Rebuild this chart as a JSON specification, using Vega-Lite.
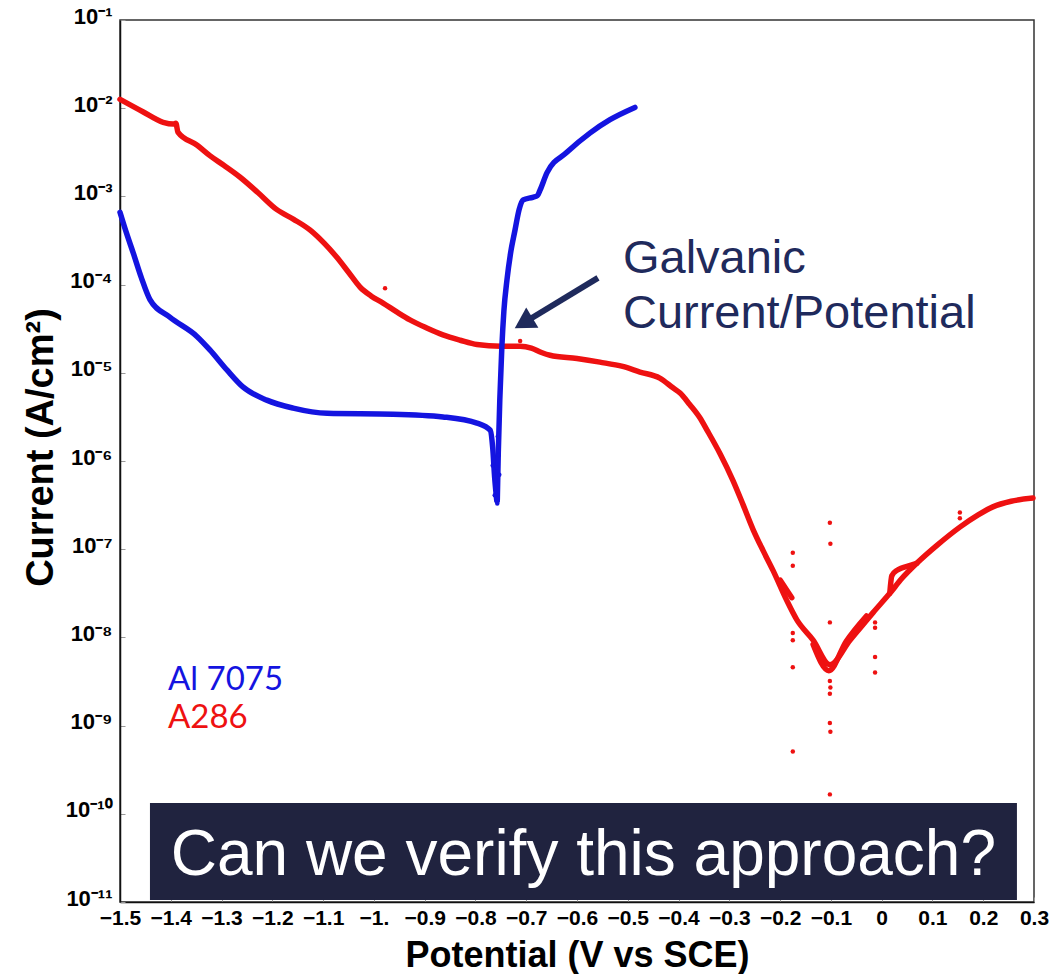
{
  "$schema": "https://vega.github.io/schema/vega-lite/v6.json",
  "width": 914,
  "height": 882,
  "autosize": "none",
  "padding": {"left": 120, "top": 20, "right": 15, "bottom": 72},
  "background": "white",
  "config": {
    "view": {"stroke": "#333333", "strokeWidth": 1.5},
    "axis": {
      "domainColor": "#111111",
      "domainWidth": 1.5,
      "tickColor": "#999999",
      "tickSize": -5,
      "tickWidth": 1,
      "grid": false,
      "labelFont": "Liberation Sans",
      "labelFontWeight": "bold",
      "labelColor": "#000000",
      "titleFont": "Liberation Sans",
      "titleFontWeight": "bold",
      "titleColor": "#000000"
    }
  },
  "datasets": {
    "curves": [
      {"alloy": "A286", "seg": "r1", "V": -1.5, "I": 0.0126},
      {"alloy": "A286", "seg": "r1", "V": -1.455, "I": 0.00912},
      {"alloy": "A286", "seg": "r1", "V": -1.415, "I": 0.00692},
      {"alloy": "A286", "seg": "r1", "V": -1.395, "I": 0.00661},
      {"alloy": "A286", "seg": "r1", "V": -1.39, "I": 0.00676},
      {"alloy": "A286", "seg": "r1", "V": -1.386, "I": 0.00537},
      {"alloy": "A286", "seg": "r1", "V": -1.348, "I": 0.00380},
      {"alloy": "A286", "seg": "r1", "V": -1.323, "I": 0.00290},
      {"alloy": "A286", "seg": "r1", "V": -1.295, "I": 0.00224},
      {"alloy": "A286", "seg": "r1", "V": -1.264, "I": 0.00166},
      {"alloy": "A286", "seg": "r1", "V": -1.228, "I": 0.00110},
      {"alloy": "A286", "seg": "r1", "V": -1.191, "I": 0.000708},
      {"alloy": "A286", "seg": "r1", "V": -1.158, "I": 0.000550},
      {"alloy": "A286", "seg": "r1", "V": -1.126, "I": 0.000417},
      {"alloy": "A286", "seg": "r1", "V": -1.098, "I": 0.000295},
      {"alloy": "A286", "seg": "r1", "V": -1.073, "I": 0.000204},
      {"alloy": "A286", "seg": "r1", "V": -1.050, "I": 0.000138},
      {"alloy": "A286", "seg": "r1", "V": -1.027, "I": 0.0000933},
      {"alloy": "A286", "seg": "r1", "V": -1.005, "I": 0.0000740},
      {"alloy": "A286", "seg": "r1", "V": -0.982, "I": 0.0000617},
      {"alloy": "A286", "seg": "r1", "V": -0.955, "I": 0.0000490},
      {"alloy": "A286", "seg": "r1", "V": -0.929, "I": 0.0000398},
      {"alloy": "A286", "seg": "r1", "V": -0.897, "I": 0.0000324},
      {"alloy": "A286", "seg": "r1", "V": -0.864, "I": 0.0000269},
      {"alloy": "A286", "seg": "r1", "V": -0.830, "I": 0.0000234},
      {"alloy": "A286", "seg": "r1", "V": -0.797, "I": 0.0000209},
      {"alloy": "A286", "seg": "r1", "V": -0.75, "I": 0.00002},
      {"alloy": "A286", "seg": "r1", "V": -0.712, "I": 0.00002},
      {"alloy": "A286", "seg": "r1", "V": -0.69, "I": 0.0000191},
      {"alloy": "A286", "seg": "r1", "V": -0.670, "I": 0.0000170},
      {"alloy": "A286", "seg": "r1", "V": -0.653, "I": 0.0000158},
      {"alloy": "A286", "seg": "r1", "V": -0.600, "I": 0.0000145},
      {"alloy": "A286", "seg": "r1", "V": -0.555, "I": 0.0000132},
      {"alloy": "A286", "seg": "r1", "V": -0.510, "I": 0.0000118},
      {"alloy": "A286", "seg": "r1", "V": -0.476, "I": 0.0000102},
      {"alloy": "A286", "seg": "r1", "V": -0.437, "I": 0.00000871},
      {"alloy": "A286", "seg": "r1", "V": -0.411, "I": 0.00000676},
      {"alloy": "A286", "seg": "r1", "V": -0.397, "I": 0.00000589},
      {"alloy": "A286", "seg": "r1", "V": -0.378, "I": 0.00000437},
      {"alloy": "A286", "seg": "r1", "V": -0.358, "I": 0.00000309},
      {"alloy": "A286", "seg": "r1", "V": -0.344, "I": 0.00000224},
      {"alloy": "A286", "seg": "r1", "V": -0.318, "I": 0.00000120},
      {"alloy": "A286", "seg": "r1", "V": -0.293, "I": 6.03e-7},
      {"alloy": "A286", "seg": "r1", "V": -0.273, "I": 3.2e-7},
      {"alloy": "A286", "seg": "r1", "V": -0.253, "I": 1.66e-7},
      {"alloy": "A286", "seg": "r1", "V": -0.233, "I": 9.5e-8},
      {"alloy": "A286", "seg": "r1", "V": -0.214, "I": 5.75e-8},
      {"alloy": "A286", "seg": "r1", "V": -0.187, "I": 2.63e-8},
      {"alloy": "A286", "seg": "r1", "V": -0.167, "I": 1.58e-8},
      {"alloy": "A286", "seg": "r1", "V": -0.135, "I": 9.33e-9},
      {"alloy": "A286", "seg": "r1", "V": -0.102, "I": 4.9e-9},
      {"alloy": "A286", "seg": "r1", "V": -0.062, "I": 9.33e-9},
      {"alloy": "A286", "seg": "r1", "V": -0.017, "I": 1.91e-8},
      {"alloy": "A286", "seg": "r1", "V": 0.016, "I": 3.16e-8},
      {"alloy": "A286", "seg": "r1", "V": 0.04, "I": 4.68e-8},
      {"alloy": "A286", "seg": "r1", "V": 0.069, "I": 6.92e-8},
      {"alloy": "A286", "seg": "r1", "V": 0.110, "I": 1.12e-7},
      {"alloy": "A286", "seg": "r1", "V": 0.154, "I": 1.78e-7},
      {"alloy": "A286", "seg": "r1", "V": 0.190, "I": 2.45e-7},
      {"alloy": "A286", "seg": "r1", "V": 0.219, "I": 3.02e-7},
      {"alloy": "A286", "seg": "r1", "V": 0.255, "I": 3.5e-7},
      {"alloy": "A286", "seg": "r1", "V": 0.298, "I": 3.8e-7},
      {"alloy": "A286", "seg": "r2", "V": -0.2, "I": 4.47e-8},
      {"alloy": "A286", "seg": "r2", "V": -0.177, "I": 2.82e-8},
      {"alloy": "A286", "seg": "r3", "V": 0.016, "I": 3.16e-8},
      {"alloy": "A286", "seg": "r3", "V": 0.02, "I": 5.0e-8},
      {"alloy": "A286", "seg": "r3", "V": 0.03, "I": 5.75e-8},
      {"alloy": "A286", "seg": "r3", "V": 0.058, "I": 6.6e-8},
      {"alloy": "A286", "seg": "r3", "V": 0.069, "I": 6.92e-8},
      {"alloy": "A286", "seg": "r4", "V": -0.135, "I": 8.3e-9},
      {"alloy": "A286", "seg": "r4", "V": -0.104, "I": 4.2e-9},
      {"alloy": "A286", "seg": "r4", "V": -0.070, "I": 9.0e-9},
      {"alloy": "A286", "seg": "r4", "V": -0.030, "I": 1.75e-8},
      {"alloy": "Al 7075", "seg": "b1", "V": -1.5, "I": 0.000661},
      {"alloy": "Al 7075", "seg": "b1", "V": -1.487, "I": 0.000380},
      {"alloy": "Al 7075", "seg": "b1", "V": -1.474, "I": 0.000229},
      {"alloy": "Al 7075", "seg": "b1", "V": -1.458, "I": 0.000120},
      {"alloy": "Al 7075", "seg": "b1", "V": -1.441, "I": 0.0000676},
      {"alloy": "Al 7075", "seg": "b1", "V": -1.402, "I": 0.0000427},
      {"alloy": "Al 7075", "seg": "b1", "V": -1.348, "I": 0.0000257},
      {"alloy": "Al 7075", "seg": "b1", "V": -1.323, "I": 0.0000182},
      {"alloy": "Al 7075", "seg": "b1", "V": -1.289, "I": 0.0000107},
      {"alloy": "Al 7075", "seg": "b1", "V": -1.258, "I": 0.00000692},
      {"alloy": "Al 7075", "seg": "b1", "V": -1.211, "I": 0.0000049},
      {"alloy": "Al 7075", "seg": "b1", "V": -1.159, "I": 0.00000398},
      {"alloy": "Al 7075", "seg": "b1", "V": -1.092, "I": 0.00000347},
      {"alloy": "Al 7075", "seg": "b1", "V": -0.962, "I": 0.00000339},
      {"alloy": "Al 7075", "seg": "b1", "V": -0.864, "I": 0.00000316},
      {"alloy": "Al 7075", "seg": "b1", "V": -0.797, "I": 0.00000269},
      {"alloy": "Al 7075", "seg": "b1", "V": -0.771, "I": 0.00000224},
      {"alloy": "Al 7075", "seg": "b1", "V": -0.766, "I": 0.00000141},
      {"alloy": "Al 7075", "seg": "b1", "V": -0.762, "I": 6.31e-7},
      {"alloy": "Al 7075", "seg": "b1", "V": -0.758, "I": 3.55e-7},
      {"alloy": "Al 7075", "seg": "b2", "V": -0.757, "I": 3.55e-7},
      {"alloy": "Al 7075", "seg": "b2", "V": -0.755, "I": 0.00000126},
      {"alloy": "Al 7075", "seg": "b2", "V": -0.752, "I": 0.00000501},
      {"alloy": "Al 7075", "seg": "b2", "V": -0.748, "I": 0.0000195},
      {"alloy": "Al 7075", "seg": "b2", "V": -0.744, "I": 0.0000501},
      {"alloy": "Al 7075", "seg": "b2", "V": -0.738, "I": 0.000112},
      {"alloy": "Al 7075", "seg": "b2", "V": -0.731, "I": 0.000224},
      {"alloy": "Al 7075", "seg": "b2", "V": -0.722, "I": 0.000417},
      {"alloy": "Al 7075", "seg": "b2", "V": -0.714, "I": 0.000708},
      {"alloy": "Al 7075", "seg": "b2", "V": -0.706, "I": 0.000912},
      {"alloy": "Al 7075", "seg": "b2", "V": -0.687, "I": 0.000977},
      {"alloy": "Al 7075", "seg": "b2", "V": -0.678, "I": 0.00102},
      {"alloy": "Al 7075", "seg": "b2", "V": -0.673, "I": 0.00117},
      {"alloy": "Al 7075", "seg": "b2", "V": -0.659, "I": 0.00186},
      {"alloy": "Al 7075", "seg": "b2", "V": -0.62, "I": 0.00316},
      {"alloy": "Al 7075", "seg": "b2", "V": -0.574, "I": 0.00525},
      {"alloy": "Al 7075", "seg": "b2", "V": -0.535, "I": 0.00741},
      {"alloy": "Al 7075", "seg": "b2", "V": -0.486, "I": 0.0102}
    ],
    "dots": [
      {"alloy": "Al 7075", "V": -0.758, "I": 8.5e-7},
      {"alloy": "Al 7075", "V": -0.76, "I": 6.0e-7},
      {"alloy": "Al 7075", "V": -0.754, "I": 0.00000117},
      {"alloy": "Al 7075", "V": -0.762, "I": 4.1e-7},
      {"alloy": "Al 7075", "V": -0.757, "I": 3.3e-7},
      {"alloy": "Al 7075", "V": -0.766, "I": 8.9e-7},
      {"alloy": "Al 7075", "V": -0.753, "I": 7.0e-7},
      {"alloy": "Al 7075", "V": -0.756, "I": 0.0000019},
      {"alloy": "A286", "V": -0.978, "I": 0.000091},
      {"alloy": "A286", "V": -0.712, "I": 0.000023},
      {"alloy": "A286", "V": -0.175, "I": 9.1e-8},
      {"alloy": "A286", "V": -0.175, "I": 6.5e-8},
      {"alloy": "A286", "V": -0.175, "I": 1.12e-8},
      {"alloy": "A286", "V": -0.175, "I": 9.3e-9},
      {"alloy": "A286", "V": -0.175, "I": 4.6e-9},
      {"alloy": "A286", "V": -0.175, "I": 5.1e-10},
      {"alloy": "A286", "V": -0.102, "I": 2.0e-7},
      {"alloy": "A286", "V": -0.101, "I": 1.15e-7},
      {"alloy": "A286", "V": -0.102, "I": 1.48e-8},
      {"alloy": "A286", "V": -0.102, "I": 3.2e-9},
      {"alloy": "A286", "V": -0.101, "I": 2.7e-9},
      {"alloy": "A286", "V": -0.102, "I": 2.3e-9},
      {"alloy": "A286", "V": -0.102, "I": 1.07e-9},
      {"alloy": "A286", "V": -0.101, "I": 8.5e-10},
      {"alloy": "A286", "V": -0.102, "I": 1.66e-10},
      {"alloy": "A286", "V": -0.013, "I": 1.48e-8},
      {"alloy": "A286", "V": -0.013, "I": 1.29e-8},
      {"alloy": "A286", "V": -0.013, "I": 6.0e-9},
      {"alloy": "A286", "V": -0.013, "I": 4.0e-9},
      {"alloy": "A286", "V": 0.154, "I": 2.6e-7},
      {"alloy": "A286", "V": 0.154, "I": 2.24e-7}
    ]
  },
  "layer": [
    {
      "data": {"name": "curves"},
      "mark": {"type": "line", "strokeWidth": 5.5, "strokeJoin": "round", "strokeCap": "round", "interpolate": "monotone"},
      "encoding": {
        "x": {
          "field": "V",
          "type": "quantitative",
          "scale": {"domain": [-1.5, 0.3], "nice": false, "zero": false},
          "axis": {
            "title": "Potential (V vs SCE)",
            "titleFontSize": 36,
            "titleBaseline": "alphabetic",
            "titleY": 64,
            "values": [-1.5, -1.4, -1.3, -1.2, -1.1, -1.0, -0.9, -0.8, -0.7, -0.6, -0.5, -0.4, -0.3, -0.2, -0.1, 0, 0.1, 0.2, 0.3],
            "labelExpr": "abs(datum.value + 1) < 0.001 ? '−1.' : (abs(datum.value) < 0.001 ? '0' : replace(format(datum.value, '.1f'), '-', '−'))",
            "labelFontSize": 21,
            "labelPadding": 10,
            "labelFlush": false,
            "labelOverlap": false
          }
        },
        "y": {
          "field": "I",
          "type": "quantitative",
          "scale": {"type": "log", "domain": [1e-11, 0.1], "nice": false},
          "axis": {
            "title": "Current (A/cm²)",
            "titleFontSize": 38,
            "titleAngle": -90,
            "titleBaseline": "alphabetic",
            "titleX": -68,
            "titleY": 427,
            "values": [1e-11, 1e-10, 1e-9, 1e-8, 1e-7, 1e-6, 1e-5, 1e-4, 1e-3, 1e-2, 1e-1],
            "labelExpr": "'10⁻' + ['⁰','¹','²','³','⁴','⁵','⁶','⁷','⁸','⁹','¹⁰','¹¹'][round(-log(datum.value) / LN10)]",
            "labelFontSize": 22,
            "labelPadding": 13,
            "labelOffset": -4,
            "labelFlush": false,
            "labelOverlap": false
          }
        },
        "detail": {"field": "seg"},
        "color": {
          "field": "alloy",
          "type": "nominal",
          "scale": {"domain": ["Al 7075", "A286"], "range": ["#1414e0", "#ee1111"]},
          "legend": null
        },
        "order": {"field": "V", "type": "quantitative"}
      }
    },
    {
      "data": {"name": "dots"},
      "mark": {"type": "circle", "size": 20, "opacity": 1},
      "encoding": {
        "x": {"field": "V", "type": "quantitative"},
        "y": {"field": "I", "type": "quantitative"},
        "color": {
          "field": "alloy",
          "type": "nominal",
          "scale": {"domain": ["Al 7075", "A286"], "range": ["#1414e0", "#d41a1a"]},
          "legend": null
        }
      }
    },
    {
      "data": {"values": [{"x": -1.441, "x2": 0.2664, "y": 1.327e-10, "y2": 1.054e-11}]},
      "mark": {"type": "rect", "color": "#20233f"},
      "encoding": {
        "x": {"field": "x", "type": "quantitative"},
        "x2": {"field": "x2"},
        "y": {"field": "y", "type": "quantitative"},
        "y2": {"field": "y2"}
      }
    },
    {
      "data": {"values": [{"label": "Can we verify this approach?", "x": -0.5875, "y": 2.02e-11}]},
      "mark": {"type": "text", "font": "Liberation Sans", "fontSize": 64, "color": "#ffffff", "align": "center", "baseline": "alphabetic"},
      "encoding": {
        "x": {"field": "x", "type": "quantitative"},
        "y": {"field": "y", "type": "quantitative"},
        "text": {"field": "label"}
      }
    },
    {
      "data": {"values": [
        {"label": "Al 7075", "alloy": "Al 7075", "x": -1.4055, "y": 2.54e-9},
        {"label": "A286", "alloy": "A286", "x": -1.4055, "y": 9.4e-10}
      ]},
      "mark": {"type": "text", "font": "Lato", "fontSize": 33, "align": "left", "baseline": "alphabetic"},
      "encoding": {
        "x": {"field": "x", "type": "quantitative"},
        "y": {"field": "y", "type": "quantitative"},
        "text": {"field": "label"},
        "color": {
          "field": "alloy",
          "type": "nominal",
          "scale": {"domain": ["Al 7075", "A286"], "range": ["#1414e0", "#ee1111"]},
          "legend": null
        }
      }
    },
    {
      "data": {"values": [
        {"label": "Galvanic", "x": -0.5095, "y": 0.0001355},
        {"label": "Current/Potential", "x": -0.5095, "y": 0.0000322}
      ]},
      "mark": {"type": "text", "font": "Liberation Sans", "fontSize": 47, "color": "#1f2a5c", "align": "left", "baseline": "alphabetic"},
      "encoding": {
        "x": {"field": "x", "type": "quantitative"},
        "y": {"field": "y", "type": "quantitative"},
        "text": {"field": "label"}
      }
    },
    {
      "data": {"values": [{"x": -0.5587, "y": 0.000119, "x2": -0.7053, "y2": 0.0000367}]},
      "mark": {"type": "rule", "color": "#1f2a5c", "strokeWidth": 6, "strokeCap": "butt"},
      "encoding": {
        "x": {"field": "x", "type": "quantitative"},
        "y": {"field": "y", "type": "quantitative"},
        "x2": {"field": "x2"},
        "y2": {"field": "y2"}
      }
    },
    {
      "data": {"values": [{"x": -0.7053, "y": 0.0000367}]},
      "mark": {"type": "point", "shape": "triangle-up", "filled": true, "size": 560, "angle": 239, "color": "#1f2a5c", "opacity": 1},
      "encoding": {
        "x": {"field": "x", "type": "quantitative"},
        "y": {"field": "y", "type": "quantitative"}
      }
    }
  ]
}
